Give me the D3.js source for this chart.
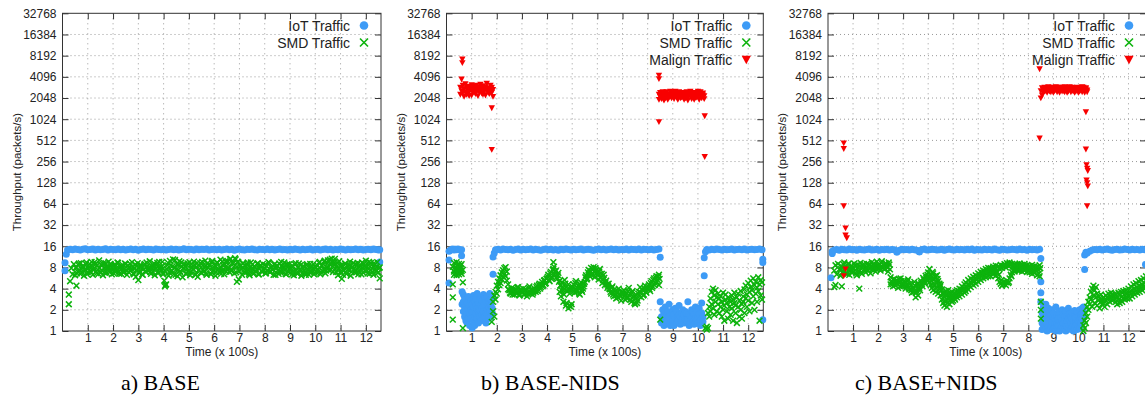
<!DOCTYPE html>
<html>
<head>
<meta charset="utf-8">
<script src="https://cdn.jsdelivr.net/npm/d3@7"></script>
<style>
  body { margin: 0; background: #fff; }
  svg { display: block; font-family: "Liberation Sans", Arial, sans-serif; }
</style>
</head>
<body>
<svg id="chart" width="1145" height="396"></svg>
<script>
// ---- ticks / labels
const xTicks = [1, 2, 3, 4, 5, 6, 7, 8, 9, 10, 11, 12];
const yTicks = [1, 2, 4, 8, 16, 32, 64, 128, 256, 512, 1024, 2048, 4096, 8192, 16384, 32768];
const panelTitles = ["a) BASE", "b) BASE-NIDS", "c) BASE+NIDS"];
const seriesNames = ["IoT Traffic", "SMD Traffic", "Malign Traffic"];

// ---- data: runs of samples, t = start time (x 100s), dt = spacing,
// each entry is one value or a list of values at that time, null = no sample
const iotA = [
  { t: 0.10, dt: 0.05, v: [[7.2, 9.3], 12.3] },
  { t: 0.20, dt: 0.1, v: [
    14.2,14.5,14.3,14.6,14.4,14.2,14.5,14.7,14.3,14.4,14.6,14.2,14.5,14.3,14.4,14.7,14.2,14.5,14.4,14.3,
    14.6,14.3,14.5,14.2,14.4,14.6,14.3,14.5,14.1,14.4,14.6,14.3,14.5,14.4,14.2,14.6,14.4,14.3,14.5,14.2,
    14.4,14.6,14.3,14.5,14.2,14.4,14.7,14.3,14.5,14.4,14.2,14.6,14.3,14.5,14.4,14.6,14.2,14.4,14.5,14.3,
    14.5,14.2,14.4,14.6,14.3,14.5,14.1,14.4,14.6,14.3,14.2,14.5,14.4,14.6,14.3,14.2,14.5,14.4,14.3,14.6,
    14.3,14.5,14.2,14.4,14.6,14.3,14.4,14.2,14.5,14.3,14.6,14.4,14.2,14.5,14.3,14.4,14.6,14.2,14.4,14.5,
    14.2,14.4,14.6,14.3,14.5,14.2,14.4,14.3,14.6,14.4,14.2,14.5,14.3,14.4,14.6,14.3,14.5,14.2,14.4,14.5,
    14.3,14.6,14.4,14.2] },
  { t: 12.55, dt: 0.05, v: [[9.6, 14.3]] }
];
const smdA = [
  { t: 0.25, dt: 0.05, v: [
    [2.4,3.3],5.1,7.8,6.4,8.9,
    6.2,[4.4,8.1],7.0,9.1,6.5,7.6,8.4,6.1,7.3,9.4,
    6.8,8.2,7.1,9.6,6.3,7.8,8.8,6.6,7.4,10.1,7.0,8.5,6.2,7.9,9.2,6.7,8.0,7.2,9.0,6.4,
    7.7,8.6,6.9,7.3,9.3,6.5,7.5,8.3,6.8,7.0,8.9,6.3,7.6,8.1,7.2,9.5,6.6,7.8,5.9,8.4,
    5.3,7.1,8.7,6.4,7.5,9.0,6.9,8.2,7.3,9.8,6.5,7.7,8.5,6.2,7.9,9.3,6.8,8.0,7.4,9.6,
    6.6,[4.3,7.2],4.6,8.6,6.1,9.9,7.0,8.3,6.4,10.2,7.5,6.0,8.8,7.1,9.4,5.8,7.8,8.4,6.5,9.1,
    7.3,6.2,8.9,7.6,9.7,6.4,8.1,5.9,7.4,9.2,6.7,8.5,7.0,10.0,6.3,7.9,8.7,6.6,9.5,7.2,
    8.0,6.1,9.3,7.5,6.8,10.3,7.2,8.6,6.4,9.8,7.7,8.9,6.9,10.6,7.4,9.1,6.6,10.4,[5.0,8.2],9.6,
    7.1,8.4,6.3,9.2,7.6,6.7,8.8,7.3,6.2,9.4,7.8,6.5,8.3,7.0,9.0,6.4,7.7,8.5,6.9,7.4,
    8.7,6.6,7.2,9.5,6.9,8.1,7.5,6.3,9.0,7.7,8.4,6.5,7.1,9.6,6.8,8.2,7.4,6.4,8.9,7.6,
    6.7,8.3,7.0,6.2,8.8,7.3,6.5,9.1,7.6,6.1,8.0,7.2,6.6,8.6,7.4,6.3,9.0,6.9,7.8,6.4,
    8.2,6.8,7.5,9.3,6.4,8.5,7.1,9.7,6.6,8.0,10.1,7.3,8.8,10.7,6.9,9.4,7.6,8.3,6.2,9.8,
    7.0,[5.5,8.6],6.3,7.8,9.0,6.6,7.4,8.5,6.1,7.9,9.2,6.8,7.3,8.7,6.4,8.1,7.6,9.4,6.7,8.3,
    10.0,7.2,8.6,6.5,9.3,7.7,6.3,8.8,7.1,9.5,6.8,[5.6,8.0]] },
  { t: 0.525, dt: 0.05, v: [
    7.9,6.6,8.7,7.2,9.2,6.9,8.0,7.5,8.9,6.4,7.7,9.0,6.8,8.3,7.4,9.5,7.0,8.6,6.5,7.9,
    8.8,7.1,9.3,6.7,8.1,7.6,9.7,6.9,8.4,7.3,6.6,8.9,7.8,9.4,7.0,8.2,6.5,8.7,7.5,9.1,
    7.2,8.5,6.8,9.0,7.7,8.1,6.4,8.8,7.4,9.2,6.7,8.3,7.9,6.3,8.6,7.1,9.4,7.6,8.0,6.9,
    8.4,7.0,9.1,7.5,8.7,6.6,9.6,7.8,8.2,6.4,5.2,4.5,7.6,9.3,6.8,8.5,7.2,10.4,7.9,6.3,
    8.9,7.4,9.8,6.7,8.3,7.7,9.0,6.5,8.6,7.1,9.5,6.9,8.1,7.6,8.8,6.3,9.2,7.3,8.4,6.8,
    9.6,7.5,8.2,6.6,9.1,7.9,8.7,6.4,9.9,7.2,8.5,6.9,9.4,7.7,8.0,6.5,9.7,7.4,8.8,7.0,
    9.9,7.8,10.5,7.1,9.3,8.2,10.8,6.8,9.6,5.4,8.3,7.6,9.1,6.9,8.6,7.3,9.4,6.5,8.0,7.7,
    8.9,6.7,8.1,7.4,9.2,6.4,8.6,7.1,9.0,7.8,6.6,8.4,7.2,9.3,6.9,8.0,7.5,8.8,6.3,8.5,
    7.3,9.1,6.8,8.2,7.7,9.4,6.5,8.6,7.1,8.9,7.6,6.4,8.3,7.0,9.2,6.7,8.0,7.4,8.7,6.6,
    8.4,7.2,6.3,8.9,7.5,6.9,8.1,7.3,9.0,6.7,7.9,8.6,7.0,9.6,6.8,8.4,7.6,10.0,7.2,9.1,
    8.1,10.3,7.4,9.5,8.7,10.6,6.9,9.2,7.7,8.5,6.6,8.0,7.3,9.1,6.5,8.4,7.6,9.7,6.9,8.2,
    7.5,8.9,6.8,9.3,7.2,8.6,6.4,7.8,9.0,7.1,8.3,6.6,9.6,7.4,8.7,6.9,9.2,7.6,8.1,6.7,
    7.9] }
];

const iotB = [
  { t: 0.10, dt: 0.05, v: [[4.8,10.2,13.6],14.1,14.4,14.6,14.2,14.5,14.3,14.6,14.4,14.2,[11.7,14.3]] },
  { t: 0.62, dt: 0.05, v: [
    [3.6,2.4],[3.3,1.9,2.6],[2.2,1.6,3.0],[2.8,1.4,2.0],[1.7,2.5,1.3],[2.1,3.1,1.5],[1.2,2.3,1.8],
    [2.7,1.5,2.0],[1.1,1.9,2.4],[3.2,1.4,2.2],[1.6,2.6,1.2],[2.9,1.8,2.3],[1.5,2.1,3.4],[2.5,1.3,1.9],
    [2.0,2.8,1.6],[1.4,2.3,3.0],[2.7,1.7,2.1],[1.9,3.3,1.5],[2.4,1.6,2.9],[1.8,2.6,1.3],[3.1,2.0,1.7],
    [2.2,1.5,2.7],[1.9,2.5,3.4],[2.8,1.6,2.3],[2.1,3.0,1.8]] },
  { t: 1.85, dt: 0.05, v: [[6.4,11.3],12.8] },
  { t: 1.95, dt: 0.1, v: [
    14.3,14.5,14.2,14.6,14.4,14.3,14.5,14.1,14.4,14.6,14.2,14.5,14.3,14.4,14.6,14.2,14.5,14.3,14.0,14.4,
    14.6,14.3,14.5,14.2,14.4,14.1,14.5,14.3,14.6,14.4,14.2,14.5,14.3,14.4,14.6,14.2,14.4,14.5,14.3,14.1,
    14.4,14.6,14.3,14.5,14.2,14.4,14.6,14.3,14.5,14.2,14.4,14.3,14.6,14.2,14.5,14.4,14.3,14.6,14.2,14.5,
    14.4,14.3,14.5,14.2,14.4,14.6] },
  { t: 8.50, dt: 0.05, v: [[11.2, 2.6]] },
  { t: 8.55, dt: 0.05, v: [
    [1.6,1.3],[2.0,1.4],[1.2,1.8],[1.5,2.2],[1.3,1.7],[1.9,1.4],[1.6,2.4],[1.2,1.5],[1.8,1.3],[1.4,2.0],
    [1.7,1.2],[2.1,1.5],[1.3,1.9],[1.6,1.4],[2.3,1.7],[1.25,1.6],[1.8,1.35],[1.5,2.0],[1.3,1.7],[1.9,1.45],
    [1.4,1.8],[2.6,1.5],[1.2,1.7],[1.65,1.3],[2.0,1.5],[1.35,1.85],[1.7,1.25],[1.5,2.2],[1.9,1.4],[1.3,1.6],
    [2.1,1.75],[1.45,1.2],[2.5,1.8],[1.6,1.35]] },
  { t: 10.25, dt: 0.05, v: [[6.1, 11.0], 13.4] },
  { t: 10.35, dt: 0.1, v: [
    14.4,14.2,14.5,14.3,14.6,14.4,14.2,14.5,14.3,14.4,14.6,14.2,14.4,14.5,14.3,14.6,14.2,14.4,14.5,14.3,
    14.4,14.6,14.3] },
  { t: 12.58, dt: 0.05, v: [[10.5, 9.4, 1.45]] }
];
const smdB = [
  { t: 0.25, dt: 0.05, v: [
    [4.6,3.0,1.45,8.2],[7.0,9.3,6.3],[8.1,6.6,7.5],[9.5,7.2,6.2],[6.8,8.6,7.7],
    [7.3,9.0,6.4],[8.4,6.9,7.8],[6.5,8.9,7.1],[4.9,1.1,7.4]] },
  { t: 1.80, dt: 0.05, v: [
    [1.35],[1.9,2.6],[3.2,1.6],[3.6,2.8],[4.4,3.4],[5.0,3.9],[5.6,4.5],[6.2,4.8],[5.4,6.8],[7.3,5.9],
    [6.5,7.8],[8.1,6.0],[7.0,5.2],[4.6,3.9],
    3.8,3.4,4.1,3.6,3.3,3.9,3.5,4.2,3.2,3.7,
    3.5,4.0,3.3,3.8,3.1,3.6,4.3,3.4,3.9,3.5,
    4.0,3.6,4.4,3.9,4.7,4.2,5.0,4.5,5.3,4.8,
    5.6,6.3,5.1,6.9,5.8,[7.6,9.5],6.4,7.2,5.5,6.7,
    [5.2,3.6],[4.5,3.1],4.9,[3.8,2.6],5.3,[4.2,2.3],3.7,[4.6,2.1],3.4,[4.1,2.2],
    3.9,4.6,3.5,5.1,3.8,4.4,3.3,4.9,3.6,4.3,
    5.0,6.2,5.6,7.4,6.0,7.9,6.6,8.1,5.8,7.3,
    6.9,5.4,7.6,5.9,4.8,6.3,4.5,5.2,4.1,4.7,
    3.9,3.4,4.3,3.1,3.7,2.9,3.5,4.0,3.2,2.7,
    3.3,3.8,2.8,3.5,3.0,4.1,3.4,2.6,3.7,3.1,
    2.4,3.2,2.7,3.6,4.2,3.0,3.8,3.3,4.4,3.5,
    4.0,4.6,3.7,5.1,4.3,5.6,4.8,6.0,5.3,[6.3,4.5],
    1.45] },
  { t: 2.525, dt: 0.05, v: [
    3.5,3.9,3.3,4.0,3.6,3.4,4.2,3.7,3.3,3.9,
    3.7,3.3,3.9,3.5,3.4,4.1,3.6,3.8,3.3,3.7,
    3.8,4.2,3.7,4.5,4.0,4.6,4.3,5.2,4.7,5.5,
    5.9,5.3,6.6,5.5,7.4,8.2,6.9,5.8,6.2,5.0,
    4.4,3.8,4.1,3.3,4.7,2.5,4.0,2.3,3.8,2.4,
    4.2,3.7,4.8,3.6,4.1,3.4,4.6,3.8,4.0,4.7,
    5.8,5.4,6.8,6.3,7.1,6.2,7.6,6.9,7.8,6.6,
    6.2,7.0,5.6,6.5,5.3,5.7,4.9,4.6,4.4,4.0,
    3.6,4.1,3.3,3.9,3.2,3.6,3.0,3.4,3.1,3.5,
    3.6,3.1,3.3,2.9,3.7,3.2,2.8,3.5,3.0,2.5,
    2.9,2.5,3.4,3.1,3.5,3.9,3.2,4.0,3.6,4.1,
    4.3,3.9,4.8,4.1,5.3,4.5,5.7,5.0,5.9,5.5] },
  { t: 10.30, dt: 0.05, v: [
    [1.1],[1.05,1.15],[1.1,1.8],[2.2,1.6],[2.9,1.9],[3.6,2.4],[2.1,4.0],[3.2,1.7],[2.6,3.8],[1.9,3.0],
    [2.4,3.4],[1.8,2.9],[3.1,2.2],[2.6,1.6],[3.5,2.0],[2.3,1.4],[2.8,3.3],[1.9,2.5],[3.0,1.5],[2.2,2.7],
    [2.6,1.7],[3.2,2.1],[1.4,2.8],[2.5,3.5],[1.8,2.3],[3.0,1.3],[2.2,3.4],[1.6,2.7],[3.7,2.0],[2.4,1.5],
    [3.1,2.6],[1.8,3.9],[2.9,4.4],[2.2,3.3],[4.8,2.7],[3.6,1.9],[4.2,5.2],[2.5,3.8],[5.6,3.1],[4.5,2.0],
    [3.4,5.0],[2.6,4.1],[5.8,3.7],[4.6,1.4],[3.2,5.3],[4.9,2.8],[6.0,4.3]] }
];
const malB = [
  { t: 0.63, dt: 0.05, v: [[7300, 6500]] },
  { t: 0.55, dt: 0.05, v: [
    [2900,2300],[3800,2600],[2450,3100],[2750,2150],[3250,2500],[2300,2850],[3000,2400],[2600,2200],
    [2950,2700],[2250,3150],[2800,2450],[2550,3000],[2350,2850],[3100,2600],[2200,2750],[2900,2500],
    [2650,3200],[2400,2800],[3050,2300],[2700,2550],[2250,2950],[3300,2650],[2500,2850],[2750,2350],
    [3100,2600],[2450,2900],[2150,2700]] },
  { t: 1.80, dt: 0.05, v: [[1480, 380]] },
  { t: 8.45, dt: 0.05, v: [[4300, 3850, 940]] },
  { t: 8.45, dt: 0.05, v: [
    [2300,1950],[2150,2450],[2000,2350],[2500,2100],[2250,1900],[2400,2050],[2150,2500],[1950,2300],
    [2350,2100],[2200,2550],[2050,2400],[2450,2150],[2000,2300],[2550,2200],[2100,2400],[2350,1950],
    [2250,2500],[2050,2200],[2450,2100],[2150,2350],[1950,2450],[2300,2050],[2500,2250],[2100,1900],
    [2400,2300],[2200,2550],[2000,2150],[2350,2450],[2250,1950],[2450,2100],[2100,2350],[2550,2200],
    [1950,2300],[2300,2500],[2150,2050],[2400,2250],[2200,2000]] },
  { t: 10.27, dt: 0.05, v: [[1140, 300]] }
];

const iotC = [
  { t: 0.12, dt: 0.05, v: [[5.7], [12.6, 13.6]] },
  { t: 0.25, dt: 0.1, v: [
    14.2,14.4,14.1,14.5,14.3,14.2,14.6,14.3,14.4,14.1,14.5,14.3,14.2,14.4,14.6,14.2,14.3,14.5,14.1,14.4,
    14.3,14.5,14.2,14.4,14.3,13.2,14.1,14.5,14.3,14.4,14.2,14.5,14.3,14.1,13.3,14.4,14.6,14.2,14.3,14.5,
    14.4,14.2,14.3,14.5,14.1,14.4,14.6,14.3,14.2,14.5,14.3,14.4,14.2,14.5,14.3,14.6,14.1,14.4,14.3,14.2,
    14.5,14.3,14.4,14.2,14.6,14.3,14.1,14.5,14.4,14.2,14.3,14.5,14.4,14.2,14.6,14.3,14.4,14.1,14.5,14.3,
    14.4,14.2,14.5] },
  { t: 8.50, dt: 0.05, v: [[10.7, 5.0, 3.5, 2.6]] },
  { t: 8.55, dt: 0.05, v: [
    [1.3,1.8,1.05],[1.6,1.1,2.2],[1.2,1.5,1.9],[1.4,2.4,1.1],[1.7,1.25,1.0],[1.15,1.55,2.1],[1.9,1.3,1.05],
    [1.45,1.1,1.7],[1.2,2.0,1.35],[1.6,1.05,1.8],[1.3,1.5,1.1],[2.2,1.4,1.0],[1.15,1.65,1.3],[1.8,1.2,1.5],
    [1.35,1.0,1.9],[1.55,1.25,1.1],[2.0,1.4,1.15],[1.1,1.7,1.3],[1.45,1.05,1.6],[1.25,1.9,1.0],[1.6,1.35,1.15],
    [1.1,1.5,2.1],[1.75,1.2,1.4],[1.3,1.05,1.6],[1.5,1.85,1.15],[1.2,1.4,1.0],[1.65,1.1,1.95],[1.35,1.55,1.2],
    [1.9,1.25,1.05],[1.15,1.6,1.4],[1.45,2.0,1.1],[1.7,1.3,1.55],[2.1,1.5,1.8],[1.6,1.9,2.2]] },
  { t: 10.25, dt: 0.05, v: [[7.5, 12.0], 13.2] },
  { t: 10.35, dt: 0.1, v: [
    12.8,13.6,14.2,14.4,14.3,14.5,14.2,14.4,14.6,14.3,14.1,14.4,14.5,14.2,14.3,14.6,14.4,14.2,14.5,14.3,
    14.4,14.2,14.5,14.3] },
  { t: 12.68, dt: 0.05, v: [[8.8]] }
];
const smdC = [
  { t: 0.25, dt: 0.05, v: [
    [4.2,7.2],[4.5,8.6],6.4,9.0,7.5,
    6.1,[8.3,4.3],7.0,9.4,6.6,7.8,8.9,6.3,7.4,8.5,
    6.9,9.1,7.3,6.2,8.0,[4.0,7.1],9.3,6.5,8.4,7.6,
    6.8,9.0,7.4,8.6,6.6,9.5,7.9,8.2,7.0,9.7,
    7.7,8.9,7.2,9.8,8.1,7.5,9.2,8.4,7.0,8.8,
    [5.8,4.6],5.1,4.3,5.5,4.8,5.3,4.1,4.9,5.6,4.4,
    4.7,5.2,4.0,4.6,5.4,3.9,4.5,3.5,4.2,5.0,
    [3.0,4.3],3.7,[3.2,4.8],4.1,5.2,4.6,5.7,5.0,6.1,5.4,
    [6.8,5.3],[7.6,4.9],[6.3,4.5],[5.8,4.1],[6.6,3.8],[5.4,4.4],[5.9,3.6],[6.2,4.8],[5.1,3.4],[4.7,3.9],
    [3.2,4.5],[2.8,3.9],[3.5,2.5],[2.3,3.0],[3.7,2.6],[2.2,3.3],[2.9,3.8],[2.4,3.1],[3.4,2.7],[2.6,3.6],
    [3.0,2.7],[3.5,2.9],3.2,[3.8,3.0],3.4,[4.0,3.1],3.6,[4.3,3.3],3.8,[4.6,3.5],
    [3.7,4.9],4.1,[5.3,3.9],4.4,[5.6,4.2],4.8,[5.9,4.5],5.1,[6.2,4.7],5.4,
    [6.6,5.0],5.7,[6.9,5.3],6.1,[7.2,5.6],6.3,[7.6,5.8],6.7,[7.9,6.0],7.0,
    [7.8,6.0],7.2,[8.2,6.4],7.5,[8.5,6.1],7.0,[8.3,5.6],[7.6,5.0],[8.7,4.7],[7.9,4.4],
    [8.4,4.6],[8.9,5.0],[8.0,4.5],[9.2,5.2],[8.5,4.8],[9.4,5.6],[8.7,6.3],[9.0,6.8],[8.2,7.3],[8.8,7.0],
    8.1,[8.9,7.4],7.8,[9.1,7.2],8.4,[8.7,7.0],7.9,[9.0,7.3],8.2,[8.6,6.9],
    7.5,[8.4,6.8],7.9,[8.7,6.5],7.2,[8.3,6.7],7.7,[8.0,6.2],7.4,[8.6,6.0]] },
  { t: 0.525, dt: 0.05, v: [
    7.6,6.7,8.8,7.1,8.2,6.5,9.1,7.8,6.9,8.0,
    7.7,8.5,6.6,8.8,7.0,8.3,6.8,7.9,9.0,7.2,
    8.0,7.2,8.9,7.7,8.3,7.4,9.1,8.6,7.6,8.4,
    8.5,7.8,9.3,8.0,8.7,7.6,8.9,7.9,9.4,7.5,
    5.0,4.6,5.4,4.5,5.0,4.7,5.5,4.3,5.1,4.8,
    4.4,4.9,4.3,5.1,4.1,4.7,3.8,4.0,3.6,4.4,
    3.5,4.0,4.5,3.8,4.8,4.3,5.4,4.7,5.7,6.3,
    6.0,5.6,5.2,6.9,4.7,6.0,4.0,5.5,4.5,4.2,
    3.8,3.4,3.1,2.7,3.2,2.5,3.4,2.8,3.0,3.2,
    3.2,2.8,3.6,3.3,3.7,3.5,3.9,3.7,4.1,3.9,
    4.3,4.6,4.6,5.0,4.8,5.3,5.2,5.6,5.5,5.9,
    5.9,6.3,6.2,6.7,6.5,7.0,6.9,7.3,7.1,7.6,
    7.0,7.7,6.8,7.9,6.6,8.1,6.3,8.0,5.3,8.3,
    4.8,8.6,4.9,8.8,5.0,9.0,6.0,8.5,7.6,8.3,
    7.6,8.5,7.3,8.7,7.6,8.2,7.4,8.5,7.7,8.0,
    7.2,8.0,7.0,8.2,6.9,7.8,7.1,8.1,6.6,7.8] },
  { t: 8.50, dt: 0.05, v: [[2.6, 2.0, 1.5]] },
  { t: 10.20, dt: 0.05, v: [
    [1.0,1.2],[1.1,1.4],[1.3,1.8],[1.6,2.2],[2.0,2.6],[2.4,3.0],
    [2.8,3.6],[2.2,4.0],[3.2,4.4],[2.5,3.8],[3.0,4.2],[2.3,3.4],[2.7,3.1],[2.1,2.9],[2.6,3.3],[2.4,2.8],
    [2.5,3.0],[2.2,2.8],[2.7,3.2],[2.4,3.0],[2.9,3.4],[2.6,3.1],[3.0,3.5],[2.7,3.3],[3.1,2.8],[2.9,3.4],
    [2.6,3.3],[3.0,2.4],[2.8,3.5],[3.2,2.5],[2.7,3.6],[3.1,2.6],[2.9,3.7],[3.3,2.8],[3.0,3.8],[3.4,2.9],
    [3.2,4.0],[3.6,2.9],[3.4,4.3],[3.8,3.1],[3.5,4.6],[4.0,3.3],[3.7,4.8],[4.2,3.5],[3.9,5.1],[4.4,3.6],
    [4.1,5.3],[4.6,3.8],[4.3,5.6],[4.8,4.0],[5.2,6.0]] }
];
const malC = [
  { t: 0.63, dt: 0.05, v: [[470, 390, 60, 6.1]] },
  { t: 0.70, dt: 0.05, v: [[29, 23, 7.6]] },
  { t: 0.75, dt: 0.05, v: [[21]] },
  { t: 8.45, dt: 0.05, v: [[5300, 550]] },
  { t: 8.50, dt: 0.05, v: [
    [2050,2600],[2250,2850],[2700,2450],[2900,2550],[2600,2800],[2750,2450],[2950,2650],[2550,2850],
    [2800,2500],[2650,2900],[2450,2750],[2850,2600],[2700,2950],[2500,2800],[2900,2650],[2600,2450],
    [2800,2700],[2550,2900],[2750,2600],[2950,2500],[2650,2850],[2450,2700],[2850,2550],[2700,2950],
    [2500,2750],[2900,2600],[2600,2800],[2800,2450],[2550,2700],[2750,2900],[2450,2650],[2850,2550],
    [2650,2800],[2500,2950],[2900,2700],[2600,2450],[2750,2850],[2500,2650]] },
  { t: 10.30, dt: 0.025, v: [[1300, 384], [230, 140], [205, 128, 60], [190, 115]] }
];

// ---- style
const colors = { iot: "#3d9bf6", smd: "#0db30d", mal: "#f80000" };
const textColor = "#222";
const frameColor = "#333";

const panels = [
  { left: 62.5, right: 381, xMax: 12.6, title: panelTitles[0], titleX: 121,
    series: [{ kind: "iot", data: iotA }, { kind: "smd", data: smdA }] },
  { left: 446.5, right: 763.3, xMax: 12.6, title: panelTitles[1], titleX: 481,
    series: [{ kind: "iot", data: iotB }, { kind: "smd", data: smdB }, { kind: "mal", data: malB }] },
  { left: 828, right: 1146, xMax: 12.7, title: panelTitles[2], titleX: 855,
    series: [{ kind: "iot", data: iotC }, { kind: "smd", data: smdC }, { kind: "mal", data: malC }] }
];
const plotTop = 13.3, plotBottom = 331;

function expand(runs) {
  const pts = [];
  runs.forEach(r => {
    r.v.forEach((e, i) => {
      if (e == null) return;
      [].concat(e).forEach(val => pts.push([r.t + i * r.dt, val]));
    });
  });
  return pts;
}

function marker(g, kind, color, big) {
  if (kind === "iot") {
    g.append("circle").attr("r", (big ? 4.3 : 3.5)).attr("fill", color);
  } else if (kind === "smd") {
    const a = big ? 4 : 2.9;
    g.append("path").attr("d", `M${-a},${-a}L${a},${a}M${-a},${a}L${a},${-a}`)
      .attr("stroke", color).attr("stroke-width", big ? 1.6 : 1.5).attr("fill", "none");
  } else {
    const s = big ? 1.45 : 1;
    const w = 3.2 * s, h = 2.6 * s;
    g.append("path").attr("d", `M${-w},${-h}L${w},${-h}L0,${h * 1.25}Z`).attr("fill", color);
  }
}

const svg = d3.select("#chart");
svg.append("rect").attr("width", 1145).attr("height", 396).attr("fill", "#fff");

panels.forEach(p => {
  const x = d3.scaleLinear().domain([0, p.xMax]).range([p.left, p.right]);
  const y = d3.scaleLog().base(2).domain([1, 32768]).range([plotBottom, plotTop]);
  const g = svg.append("g");

  // grid
  g.append("g").selectAll("line").data(yTicks.slice(1, -1)).join("line")
    .attr("x1", p.left).attr("x2", p.right).attr("y1", d => y(d)).attr("y2", d => y(d))
    .attr("stroke", "#9a9a9a").attr("stroke-width", 1).attr("stroke-dasharray", "1,3");
  g.append("g").selectAll("line").data(xTicks.filter(d => x(d) < p.right - 1)).join("line")
    .attr("x1", d => x(d)).attr("x2", d => x(d)).attr("y1", plotTop).attr("y2", plotBottom)
    .attr("stroke", "#9a9a9a").attr("stroke-width", 1).attr("stroke-dasharray", "1,4");

  // axes (ticks inside, mirrored like gnuplot)
  const yAxisL = d3.axisLeft(y).tickValues(yTicks).tickFormat(d3.format("d")).tickSize(-6).tickPadding(6);
  const yAxisR = d3.axisRight(y).tickValues(yTicks).tickFormat("").tickSize(-6);
  const xAxisB = d3.axisBottom(x).tickValues(xTicks).tickFormat(d3.format("d")).tickSize(-6).tickPadding(2);
  const xAxisT = d3.axisTop(x).tickValues(xTicks).tickFormat("").tickSize(-6);
  [[yAxisL, `translate(${p.left},0)`], [yAxisR, `translate(${p.right},0)`],
   [xAxisB, `translate(0,${plotBottom})`], [xAxisT, `translate(0,${plotTop})`]].forEach(([ax, tr]) => {
    const a = g.append("g").attr("transform", tr).call(ax);
    a.select(".domain").remove();
    a.selectAll("line").attr("stroke", frameColor);
    a.selectAll("text").attr("fill", textColor).attr("font-size", 12)
      .attr("font-family", '"Liberation Sans", Arial, sans-serif');
  });

  g.append("rect").attr("x", p.left).attr("y", plotTop)
    .attr("width", p.right - p.left).attr("height", plotBottom - plotTop)
    .attr("fill", "none").attr("stroke", frameColor).attr("stroke-width", 1);

  // axis titles
  g.append("text").attr("transform", `translate(${p.left - 46},${(plotTop + plotBottom) / 2}) rotate(-90)`)
    .attr("text-anchor", "middle").attr("dy", "0.35em").attr("font-size", 11.5).attr("fill", textColor)
    .text("Throughput (packets/s)");
  const xMid = (x(0) + x(12.6)) / 2;
  g.append("text").attr("x", xMid).attr("y", 356).attr("text-anchor", "middle")
    .attr("font-size", 12).attr("fill", textColor).text("Time (x 100s)");

  // points
  p.series.forEach(s => {
    const pts = expand(s.data).filter(d => d[0] <= p.xMax);
    const sg = g.append("g");
    pts.forEach(d => {
      const m = sg.append("g").attr("transform", `translate(${x(d[0])},${y(d[1])})`);
      marker(m, s.kind, colors[s.kind], false);
    });
  });

  // legend
  const legRight = x(p.xMax) - 31;
  p.series.forEach((s, i) => {
    const cy = 25.5 + i * 17;
    g.append("text").attr("x", legRight).attr("y", cy).attr("dy", "0.36em")
      .attr("text-anchor", "end").attr("font-size", 14).attr("fill", textColor)
      .text(seriesNames[["iot", "smd", "mal"].indexOf(s.kind)]);
    const m = g.append("g").attr("transform", `translate(${legRight + 14},${cy})`);
    marker(m, s.kind, colors[s.kind], true);
  });

  // panel caption
  svg.append("text").attr("x", p.titleX).attr("y", 390)
    .attr("font-family", '"Liberation Serif", "Times New Roman", serif')
    .attr("font-size", 22).attr("fill", "#000").text(p.title);
});
</script>
</body>
</html>
